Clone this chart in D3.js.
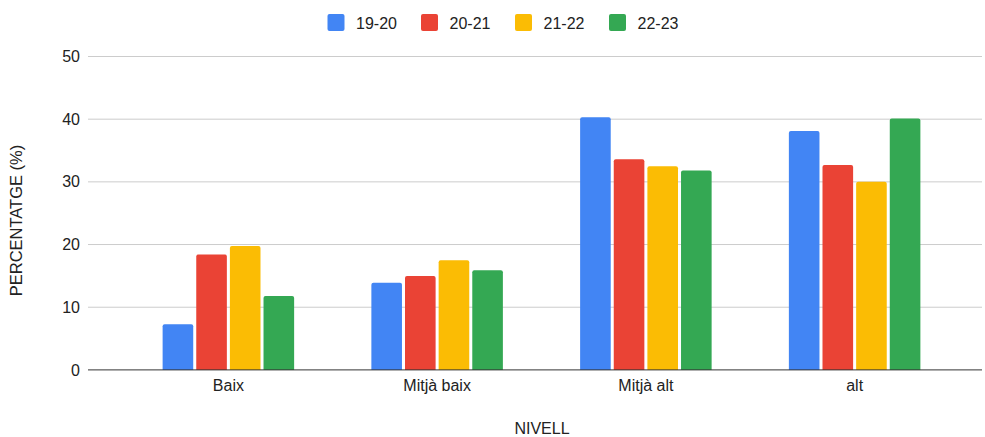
<!DOCTYPE html>
<html><head><meta charset="utf-8">
<script src="https://cdn.jsdelivr.net/npm/d3@7"></script>
<style>body{margin:0;background:#fff;} text{font-family:"Liberation Sans", Arial, sans-serif;}</style>
</head><body>
<svg id="c" width="985" height="437"></svg>
<script>
const categories = ["Baix", "Mitjà baix", "Mitjà alt", "alt"];
const seriesNames = ["19-20", "20-21", "21-22", "22-23"];
const s1920 = [7.3, 13.9, 40.3, 38.1];
const s2021 = [18.4, 15.0, 33.6, 32.7];
const s2122 = [19.75, 17.5, 32.5, 30.0];
const s2223 = [11.8, 15.9, 31.8, 40.1];
const colors = ["#4285F4", "#EA4335", "#FBBC04", "#34A853"];
const yTicks = [0, 10, 20, 30, 40, 50];

const FONT = '"Liberation Sans", Arial, sans-serif';
const series = [s1920, s2021, s2122, s2223];
const svg = d3.select("#c");
const axisLeft = 88, axisRight = 982;
const y = d3.scaleLinear().domain([0, 50]).range([369.9, 56.5]);
const x0 = d3.scaleBand().domain(categories).range([124, 959]).paddingInner(0.37).paddingOuter(0.185);
const x1 = d3.scaleBand().domain(seriesNames).range([0, x0.bandwidth()]).paddingInner(0.09).paddingOuter(0);

// grid
svg.append("g").selectAll("line").data(yTicks.filter(d => d > 0)).enter().append("line")
  .attr("x1", axisLeft).attr("x2", axisRight)
  .attr("y1", d => y(d)).attr("y2", d => y(d))
  .attr("stroke", "#cccccc").attr("stroke-width", 1);

// y axis labels
const yAxis = d3.axisLeft(y).tickValues(yTicks).tickSize(0).tickPadding(8);
const ya = svg.append("g").attr("transform", `translate(${axisLeft},0)`).call(yAxis);
ya.select(".domain").remove();
ya.selectAll("text").attr("font-size", 16).attr("fill", "#222").attr("font-family", FONT);

// bars
function roundTop(xp, yp, w, h, r) {
  r = Math.min(r, h, w / 2);
  return `M${xp},${yp + h}V${yp + r}Q${xp},${yp} ${xp + r},${yp}H${xp + w - r}Q${xp + w},${yp} ${xp + w},${yp + r}V${yp + h}Z`;
}
categories.forEach((c, ci) => {
  seriesNames.forEach((s, si) => {
    const v = series[si][ci];
    const bx = x0(c) + x1(s);
    svg.append("path")
      .attr("d", roundTop(bx, y(v), x1.bandwidth(), y(0) - y(v), 2))
      .attr("fill", colors[si]);
  });
});

// baseline
svg.append("line").attr("x1", axisLeft).attr("x2", axisRight)
  .attr("y1", y(0)).attr("y2", y(0)).attr("stroke", "#333").attr("stroke-width", 1);

// x axis labels
const xAxis = d3.axisBottom(x0).tickSize(0).tickPadding(10);
const xa = svg.append("g").attr("transform", `translate(0,${y(0)})`).call(xAxis);
xa.select(".domain").remove();
xa.selectAll("text").attr("font-size", 16).attr("fill", "#222").attr("font-family", FONT);

// axis titles
svg.append("text").attr("x", 542).attr("y", 434).attr("text-anchor", "middle")
  .attr("font-size", 16).attr("fill", "#222").text("NIVELL");
svg.append("text").attr("transform", "translate(21.5,220.5) rotate(-90)").attr("text-anchor", "middle")
  .attr("font-size", 16.5).attr("fill", "#222").text("PERCENTATGE (%)");

// legend
const legX = [327.5, 421, 515, 609];
const lg = svg.append("g");
seriesNames.forEach((s, i) => {
  lg.append("rect").attr("x", legX[i]).attr("y", 14).attr("width", 17).attr("height", 17)
    .attr("rx", 2).attr("fill", colors[i]);
  lg.append("text").attr("x", legX[i] + 28.5).attr("y", 28.5).attr("font-size", 16)
    .attr("fill", "#222").text(s);
});
</script>
</body></html>
